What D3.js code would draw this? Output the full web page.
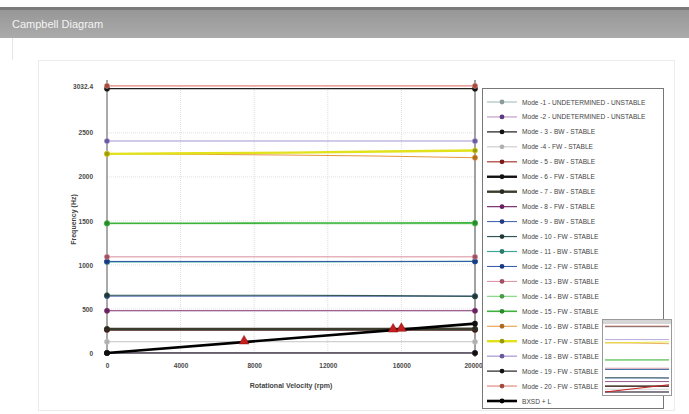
<!DOCTYPE html>
<html>
<head>
<meta charset="utf-8">
<script src="https://cdn.jsdelivr.net/npm/d3@7"></script>
<style>
  body { margin: 0; background: #fff; }
  svg { display: block; font-family: "Liberation Sans", Arial, sans-serif; }
</style>
</head>
<body>
<div id="chart"></div>
<script>
// speeds (rpm) at which every mode was computed
const speeds = [0, 5000, 10000, 15000, 20000];

// legend labels, in order
const modeLabels = [
  "Mode -1 - UNDETERMINED - UNSTABLE",
  "Mode -2 - UNDETERMINED - UNSTABLE",
  "Mode - 3 - BW - STABLE",
  "Mode -4 - FW - STABLE",
  "Mode - 5 - BW - STABLE",
  "Mode - 6 - FW - STABLE",
  "Mode - 7 - BW - STABLE",
  "Mode - 8 - FW - STABLE",
  "Mode - 9 - BW - STABLE",
  "Mode - 10 - FW - STABLE",
  "Mode - 11 - BW - STABLE",
  "Mode - 12 - FW - STABLE",
  "Mode - 13 - BW - STABLE",
  "Mode - 14 - BW - STABLE",
  "Mode - 15 - FW - STABLE",
  "Mode - 16 - BW - STABLE",
  "Mode - 17 - FW - STABLE",
  "Mode - 18 - BW - STABLE",
  "Mode - 19 - FW - STABLE",
  "Mode - 20 - FW - STABLE"
];

// natural frequencies (Hz) per mode, one value per speed
const modeFreqs = [
  [1, 1, 1, 1, 1],
  [2, 2, 2, 2, 2],
  [0, 0, 0, 0, 0],
  [128, 128, 128, 128, 128],
  [262, 262, 262, 262, 261],
  [268, 268, 268, 268, 268],
  [274, 274, 274, 274, 275],
  [480, 480, 480, 480, 480],
  [646, 646, 646, 646, 646],
  [656, 656, 656, 652, 642],
  [1034, 1034, 1036, 1038, 1040],
  [1040, 1040, 1040, 1040, 1040],
  [1092, 1092, 1092, 1092, 1092],
  [1468, 1468, 1468, 1468, 1468],
  [1474, 1474, 1476, 1476, 1478],
  [2262, 2256, 2248, 2236, 2218],
  [2262, 2268, 2276, 2288, 2300],
  [2408, 2408, 2408, 2408, 2408],
  [3002, 3002, 3002, 3002, 3002],
  [3034, 3034, 3034, 3034, 3034]
];

const modeColors = [
  "#9ab8b2", "#b98ac0", "#1a1a1a", "#c4c4c4", "#a83a32",
  "#111111", "#3c3c2c", "#7a2e6e", "#3a5ca8", "#345858",
  "#3fa596", "#2f58a8", "#d88c9c", "#86d886", "#3cb43c",
  "#e6963e", "#e2e21c", "#a696d6", "#202020", "#e48a80"
];
const modeMarkers = [
  "#8a9a98", "#5a3a80", "#111", "#b0b0b0", "#7a1a1a",
  "#111", "#2a2a22", "#6a2060", "#223a80", "#223838",
  "#2a7a6a", "#1a3a80", "#a05060", "#4a9a4a", "#2a8a2a",
  "#b06a20", "#9a9a10", "#6a5a9a", "#111", "#a04a40"
];
const modeWidths = [1, 1, 1.2, 1, 1.2, 2.4, 2.4, 1.2, 1, 1.2, 1.2, 1, 1, 1.2, 1.6, 1, 2.4, 1.2, 1.2, 1.2];

// excitation line
const excLabel = "BXSD + L";
const excSpeeds = [0, 20000];
const excFreqs = [0, 333.3];

// critical speed crossings
const critSpeeds = [7450, 15550, 16000];
const critFreqs = [124, 259, 267];

const xTicks = [0, 4000, 8000, 12000, 16000, 20000];
const yTicks = [0, 500, 1000, 1500, 2000, 2500, 3032.4];
const yLabels = ["0", "500", "1000", "1500", "2000", "2500", "3032.4"];

const W = 689, H = 414;
const svg = d3.select("#chart").append("svg").attr("width", W).attr("height", H);

// title bar
const grad = svg.append("defs").append("linearGradient")
  .attr("id", "bar").attr("x1", 0).attr("x2", 0).attr("y1", 0).attr("y2", 1);
grad.append("stop").attr("offset", "0%").attr("stop-color", "#979797");
grad.append("stop").attr("offset", "100%").attr("stop-color", "#ababab");
svg.append("rect").attr("x", 0).attr("y", 7).attr("width", W).attr("height", 3).attr("fill", "#7a7a7a");
svg.append("rect").attr("x", 0).attr("y", 10).attr("width", W).attr("height", 28).attr("fill", "url(#bar)");
svg.append("text").attr("x", 12).attr("y", 28).attr("fill", "#f4f4f4")
  .style("font-size", "11px").text("Campbell Diagram");

// faint panel frames
svg.append("line").attr("x1", 12.5).attr("x2", 12.5).attr("y1", 38).attr("y2", 60).attr("stroke", "#e6e6e6");
svg.append("rect").attr("x", 38.5).attr("y", 60.5).attr("width", 636).attr("height", 350)
  .attr("fill", "none").attr("stroke", "#ececec");

const x = d3.scaleLinear().domain([0, 20000]).range([107, 475]);
const y = d3.scaleLinear().domain([0, 3032.4]).range([353, 86]);

// grid
const grid = svg.append("g");
grid.selectAll(".gx").data(xTicks.slice(1, -1)).join("line")
  .attr("x1", d => x(d)).attr("x2", d => x(d)).attr("y1", y(3032.4)).attr("y2", y(0))
  .attr("stroke", "#dcdcdc").attr("stroke-dasharray", "1,1");
grid.selectAll(".gy").data(yTicks.slice(1)).join("line")
  .attr("x1", x(0)).attr("x2", x(20000)).attr("y1", d => y(d)).attr("y2", d => y(d))
  .attr("stroke", "#e2e2e2").attr("stroke-dasharray", "1,1");

// axes
const xAxis = svg.append("g").attr("transform", `translate(0,${y(0) + 4})`)
  .call(d3.axisBottom(x).tickValues(xTicks).tickFormat(d3.format("d")).tickSize(0).tickPadding(6));
const yAxis = svg.append("g").attr("transform", `translate(${x(0) - 6},0)`)
  .call(d3.axisLeft(y).tickValues(yTicks).tickFormat((d, i) => yLabels[i]).tickSize(0).tickPadding(8));
[xAxis, yAxis].forEach(a => {
  a.select(".domain").remove();
  a.attr("font-family", null).attr("font-size", null);
  a.selectAll("text").attr("fill", "#4a4a4a").style("font-size", "6.5px").style("font-weight", "bold");
});
xAxis.selectAll(".tick").filter(d => d === 20000).select("text").attr("dx", "-2");
svg.append("line").attr("x1", x(0)).attr("x2", x(0)).attr("y1", y(3032.4) - 6).attr("y2", y(0) + 2)
  .attr("stroke", "#555");
svg.append("line").attr("x1", x(20000)).attr("x2", x(20000)).attr("y1", y(3032.4) - 6).attr("y2", y(0) + 4)
  .attr("stroke", "#444");

svg.append("text").attr("x", 291).attr("y", 388).attr("text-anchor", "middle")
  .attr("fill", "#444").style("font-size", "7px").style("font-weight", "bold")
  .text("Rotational Velocity (rpm)");
svg.append("text").attr("transform", `translate(76,${(y(0) + y(3032.4)) / 2}) rotate(-90)`)
  .attr("text-anchor", "middle").attr("fill", "#444").style("font-size", "7px").style("font-weight", "bold")
  .text("Frequency (Hz)");

// modes
const line = d3.line().x(d => x(d[0])).y(d => y(d[1]));
const modes = modeFreqs.map((f, i) => ({
  label: modeLabels[i], color: modeColors[i], marker: modeMarkers[i], width: modeWidths[i],
  pts: speeds.map((s, j) => [s, f[j]])
}));
const plot = svg.append("g");
plot.selectAll("path.mode").data(modes).join("path").attr("class", "mode")
  .attr("d", d => line(d.pts)).attr("fill", "none")
  .attr("stroke", d => d.color).attr("stroke-width", d => d.width);
modes.forEach(m => {
  plot.selectAll(null).data([m.pts[0], m.pts[m.pts.length - 1]]).join("circle")
    .attr("cx", d => x(d[0])).attr("cy", d => y(d[1])).attr("r", 2.6)
    .attr("fill", m.marker).attr("stroke", m.color).attr("stroke-width", 0.6);
});

// excitation
const exc = excSpeeds.map((s, i) => [s, excFreqs[i]]);
plot.append("path").attr("d", line(exc)).attr("fill", "none").attr("stroke", "#000").attr("stroke-width", 2.6);
plot.selectAll("circle.exc").data(exc).join("circle").attr("class", "exc")
  .attr("cx", d => x(d[0])).attr("cy", d => y(d[1])).attr("r", 2.8).attr("fill", "#111");

// critical speed markers
const tri = d3.symbol().type(d3.symbolTriangle).size(42);
plot.selectAll("path.crit").data(critSpeeds).join("path").attr("class", "crit")
  .attr("d", tri).attr("fill", "#c41e1e").attr("stroke", "#8a1010").attr("stroke-width", 0.5)
  .attr("transform", (d, i) => `translate(${x(d)},${y(critFreqs[i]) - 1})`);

// legend
const legend = svg.append("g");
legend.append("rect").attr("x", 482.5).attr("y", 88.5).attr("width", 181).attr("height", 320)
  .attr("fill", "#fff").attr("stroke", "#777");
const items = modes.concat([{ label: excLabel, color: "#000", marker: "#000", width: 2.6 }]);
const ly = d3.scaleLinear().domain([0, items.length - 1]).range([102, 401]);
const li = legend.selectAll("g.item").data(items).join("g").attr("class", "item")
  .attr("transform", (d, i) => `translate(487,${ly(i)})`);
li.append("line").attr("x1", 0).attr("x2", 30).attr("stroke", d => d.color)
  .attr("stroke-width", d => Math.max(1, d.width));
li.append("circle").attr("cx", 15).attr("r", 2.4).attr("fill", d => d.marker);
li.append("text").attr("x", 35).attr("y", 2.5).attr("fill", "#444")
  .style("font-size", "6.6px").text(d => d.label);

// thumbnail overlay
const th = svg.append("g");
th.append("rect").attr("x", 602.5).attr("y", 319.5).attr("width", 69).attr("height", 76)
  .attr("fill", "#fff").attr("stroke", "#999");
th.append("rect").attr("x", 603).attr("y", 320).attr("width", 68).attr("height", 4).attr("fill", "#d6d6d6");
const tx = d3.scaleLinear().domain([0, 20000]).range([605, 669]);
const ty = d3.scaleLinear().domain([0, 3032.4]).range([392, 326]);
const tline = d3.line().x(d => tx(d[0])).y(d => ty(d[1]));
th.selectAll("path.tm").data(modes).join("path").attr("class", "tm")
  .attr("d", d => tline(d.pts)).attr("fill", "none").attr("stroke", d => d.color).attr("stroke-width", 0.8);
th.append("path").attr("d", tline(exc)).attr("fill", "none").attr("stroke", "#c41e1e").attr("stroke-width", 1);
</script>
</body>
</html>
